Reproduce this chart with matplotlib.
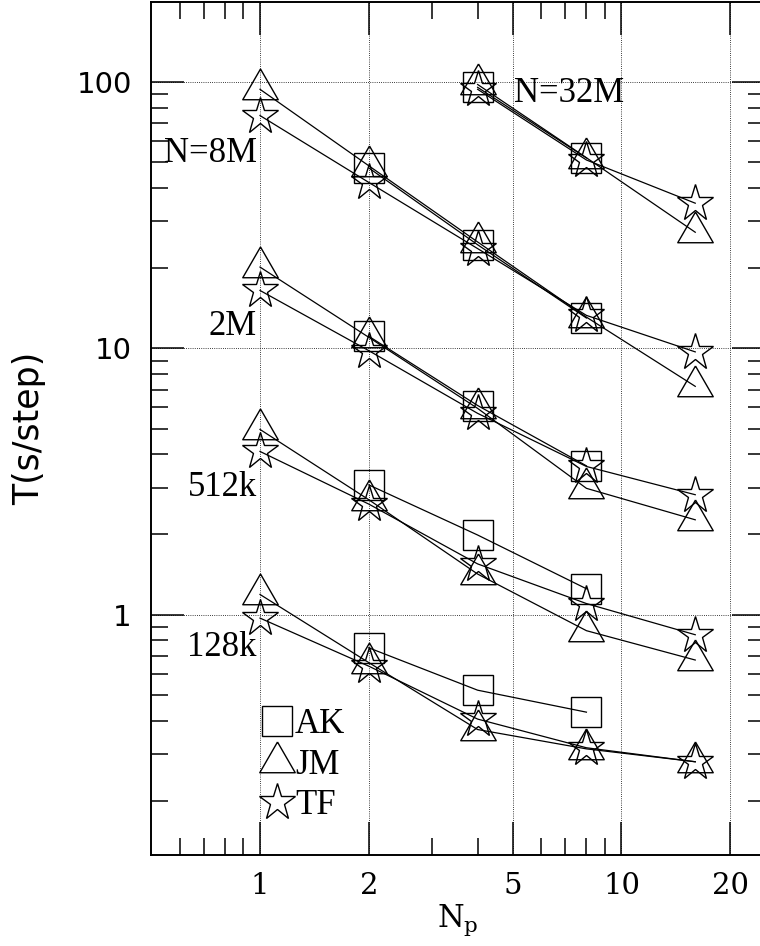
import numpy as np
import matplotlib
matplotlib.use("Agg")
import matplotlib.pyplot as plt
from matplotlib.ticker import FixedLocator, NullFormatter
from matplotlib.lines import Line2D

plt.rcParams["mathtext.default"] = "regular"

# ---- data -------------------------------------------------------------
nan = np.nan
n_proc = [1, 2, 4, 8, 16]

# AK (squares)
ak_32m = [nan, nan, 95.6, 51.9, nan]
ak_8m = [nan, 47.6, 24.5, 13.0, nan]
ak_2m = [nan, 11.1, 6.1, 3.62, nan]
ak_512k = [nan, 3.07, 1.99, 1.25, nan]
ak_128k = [nan, 0.75, 0.52, 0.43, nan]

# JM (triangles)
jm_32m = [nan, nan, 98.0, 52.0, 27.3]
jm_8m = [94.0, 48.5, 25.1, 13.1, 7.2]
jm_2m = [20.2, 11.0, 5.95, 2.98, 2.27]
jm_512k = [4.96, 2.70, 1.42, 0.87, 0.675]
jm_128k = [1.19, 0.66, 0.37, 0.313, 0.28]

# TF (stars)
tf_32m = [nan, nan, 94.0, 51.0, 35.1]
tf_8m = [74.9, 42.0, 23.7, 13.3, 9.7]
tf_2m = [16.5, 9.8, 5.7, 3.6, 2.82]
tf_512k = [4.1, 2.6, 1.55, 1.10, 0.84]
tf_128k = [0.97, 0.64, 0.405, 0.316, 0.28]

size_labels = ["N=32M", "N=8M", "2M", "512k", "128k"]
size_label_x = [5.04, 0.98, 0.98, 0.98, 0.98]
size_label_y = [84.0, 50.0, 11.2, 2.78, 0.697]
size_label_ha = ["left", "right", "right", "right", "right"]

x_major = [1, 2, 5, 10, 20]
x_major_labels = ["1", "2", "5", "10", "20"]
x_minor = [0.6, 0.7, 0.8, 0.9, 3, 4, 6, 7, 8, 9]
y_major = [1, 10, 100]
y_major_labels = ["1", "10", "100"]
y_minor = [m * d for d in (0.1, 1, 10) for m in range(2, 10)]

# ---- figure -----------------------------------------------------------
W, H = 760, 946
fig = plt.figure(figsize=(W / 100, H / 100), dpi=100)
ax = fig.add_axes([151.2 / W, 91 / H, 614.1 / W, 853 / H])
ax.set_xscale("log")
ax.set_yscale("log")
ax.set_xlim(0.5, 25)
ax.set_ylim(0.125, 200)

tri = [(0, 1), (-0.866, -0.5), (0.866, -0.5), (0, 1)]
styles = {
    "AK": dict(marker="s", ms=21),
    "JM": dict(marker=tri, ms=29.5),
    "TF": dict(marker="*", ms=28),
}
common = dict(color="black", lw=0.9, mfc="none", mec="black", mew=1.0)

series = {
    "AK": [ak_32m, ak_8m, ak_2m, ak_512k, ak_128k],
    "JM": [jm_32m, jm_8m, jm_2m, jm_512k, jm_128k],
    "TF": [tf_32m, tf_8m, tf_2m, tf_512k, tf_128k],
}
for key, groups in series.items():
    for vals in groups:
        v = np.array(vals, dtype=float)
        m = ~np.isnan(v)
        ax.plot(np.array(n_proc)[m], v[m], **styles[key], **common)

label_font = dict(family="Liberation Serif", size=25)
for txt, tx, ty, ha in zip(size_labels, size_label_x, size_label_y, size_label_ha):
    ax.text(tx, ty, txt, ha=ha, va="baseline", **label_font)

# legend
handles = [Line2D([], [], ls="none", **styles[k], mfc="none", mec="black", mew=1.0)
           for k in series]
ax.legend(handles, list(series.keys()), loc="upper left",
          bbox_to_anchor=(0.183, 0.1723), frameon=False,
          handlelength=0.8, handletextpad=0.1, borderpad=0, borderaxespad=0,
          labelspacing=0.22, prop=dict(family="Liberation Serif", size=25))

# ---- axes -------------------------------------------------------------
ax.xaxis.set_major_locator(FixedLocator(x_major))
ax.xaxis.set_minor_locator(FixedLocator(x_minor))
ax.xaxis.set_minor_formatter(NullFormatter())
ax.set_xticklabels(x_major_labels, family="DejaVu Serif", size=21)
ax.yaxis.set_major_locator(FixedLocator(y_major))
ax.yaxis.set_minor_locator(FixedLocator(y_minor))
ax.yaxis.set_minor_formatter(NullFormatter())
ax.set_yticklabels(y_major_labels, family="DejaVu Sans", size=21)

ax.tick_params(which="both", direction="in", top=True, right=True, color="black")
ax.tick_params(which="major", length=23.8, width=1.1)
ax.tick_params(which="minor", length=12.5, width=1.1)
ax.tick_params(axis="x", which="major", pad=12)
ax.tick_params(axis="y", which="major", pad=14)

for s in ax.spines.values():
    s.set_linewidth(1.4)

ax.grid(True, which="major", linestyle=(0, (1, 1.6)), color="black", linewidth=0.6)

ax.set_xlabel(r"$N_p$", family="DejaVu Serif", size=22)
ax.xaxis.set_label_coords(0.5, -0.056)
ax.xaxis.label.set_va("top")
ax.set_ylabel("T(s/step)", family="DejaVu Sans", size=25)
ax.yaxis.set_label_coords(-0.198, 0.5)
ax.yaxis.label.set_va("center")

fig.savefig("out.png", dpi=100)
